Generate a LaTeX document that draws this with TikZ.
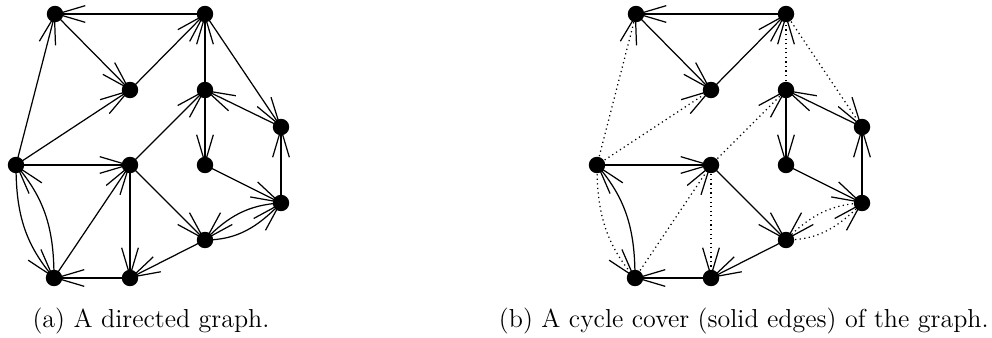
\documentclass[tikz,border=0pt]{standalone}
\usepackage{fontspec}
\usetikzlibrary{arrows.meta}
\begin{document}
\begin{tikzpicture}[x=0.02cm,y=-0.02cm,
  edge/.style={line width=0.7pt, -{Straight Barb[length=16pt,width=9.5pt]}},
  ce/.style={edge},
  ne/.style={edge},
  dotnode/.style={circle, fill=black, inner sep=0pt, minimum size=0.33cm},
  captext/.style={inner sep=0pt, font=\fontsize{14.8pt}{17pt}\selectfont},
  ]
\useasboundingbox (0,0) rectangle (992,338);
\newcommand\drawgraph{%
  \coordinate (A) at (55,14);
  \coordinate (B) at (205,14);
  \coordinate (C) at (130,90);
  \coordinate (D) at (205,90);
  \coordinate (E) at (281,127);
  \coordinate (F) at (16,165);
  \coordinate (G) at (130,165);
  \coordinate (H) at (205,165);
  \coordinate (I) at (281,203);
  \coordinate (J) at (205,240);
  \coordinate (K) at (54,278);
  \coordinate (L) at (130,278);
  % cycle cover edges
  \draw[ce] (B) -- (A);
  \draw[ce] (A) -- (C);
  \draw[ce] (C) -- (B);
  \draw[ce] (D) -- (H);
  \draw[ce] (H) -- (I);
  \draw[ce] (I) -- (E);
  \draw[ce] (E) -- (D);
  \draw[ce] (F) -- (G);
  \draw[ce] (G) -- (J);
  \draw[ce] (J) -- (L);
  \draw[ce] (L) -- (K);
  \draw[ce] (K) to[out=90,in=-50] (F);
  % other edges
  \draw[ne] (F) -- (A);
  \draw[ne] (F) -- (C);
  \draw[ne] (D) -- (B);
  \draw[ne] (B) -- (E);
  \draw[ne] (G) -- (D);
  \draw[ne] (K) -- (G);
  \draw[ne] (G) -- (L);
  \draw[ne] (F) to[out=-90,in=130] (K);
  \draw[ne] (J) to[out=0,in=225] (I);
  \draw[ne] (I) to[out=183,in=45] (J);
  \foreach \n in {A,B,C,D,E,F,G,H,I,J,K,L} \node[dotnode] (dot\n) at (\n) {};
}
\begin{scope}[name prefix=l-]
  \drawgraph
\end{scope}
\begin{scope}[name prefix=r-, shift={(581,0)}, ne/.style={edge, dash pattern=on 0.7pt off 1.9pt}]
  \drawgraph
\end{scope}
\node[captext, anchor=base] (capa) at (151,327) {(a) A directed graph.};
\node[captext, anchor=base east] (capb) at (989,327) {(b) A cycle cover (solid edges) of the graph.};
\end{tikzpicture}
\end{document}
